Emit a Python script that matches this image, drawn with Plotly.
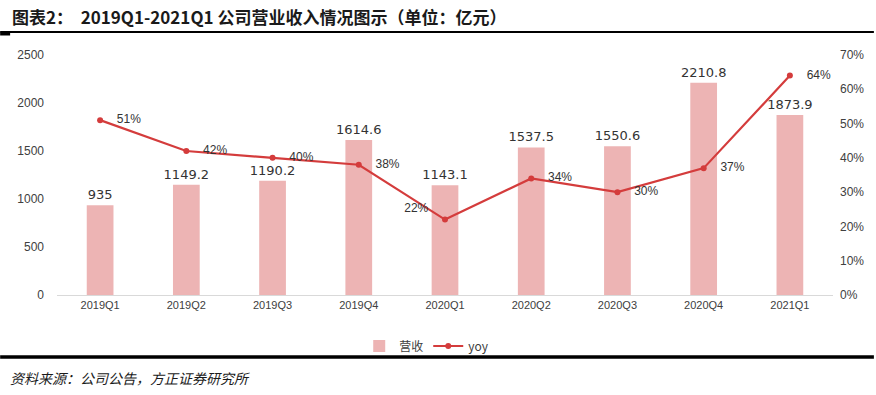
import plotly.graph_objects as go

categories = ["2019Q1", "2019Q2", "2019Q3", "2019Q4", "2020Q1", "2020Q2", "2020Q3", "2020Q4", "2021Q1"]
revenue = [935, 1149.2, 1190.2, 1614.6, 1143.1, 1537.5, 1550.6, 2210.8, 1873.9]
revenue_labels = ["935", "1149.2", "1190.2", "1614.6", "1143.1", "1537.5", "1550.6", "2210.8", "1873.9"]
yoy = [0.51, 0.42, 0.40, 0.38, 0.22, 0.34, 0.30, 0.37, 0.64]
yoy_labels = ["51%", "42%", "40%", "38%", "22%", "34%", "30%", "37%", "64%"]
yoy_pos = ["middle right"] * 9
yoy_pos[4] = "top left"

W, H = 876, 395
L, R, T, B = 57, 835, 55, 295  # plot area px


def px(x):
    return (x - L) / (R - L)


def py(y):
    return (B - y) / (B - T)


yoy_text = [("\u2002\u2002" + s) if p == "middle right" else (s + "\u2002\u2002") for s, p in zip(yoy_labels, yoy_pos)]

FONT = "Noto Sans CJK SC, Liberation Sans, sans-serif"
fig = go.Figure()
fig.add_trace(go.Bar(
    x=categories, y=revenue, name="营收",
    marker=dict(color="#EDB4B4", line=dict(width=0)),
    width=0.31,
    text=revenue_labels, textposition="outside", cliponaxis=False, constraintext="none",
    textfont=dict(size=13, color="#333333", family="DejaVu Sans, sans-serif"),
))
fig.add_trace(go.Scatter(
    x=categories, y=yoy, name="yoy", yaxis="y2",
    mode="lines+markers+text",
    line=dict(color="#D43C3C", width=2.2),
    marker=dict(color="#D43C3C", size=6),
    text=yoy_text, textposition=yoy_pos, cliponaxis=False,
    textfont=dict(size=12, color="#333333", family="Liberation Sans, sans-serif"),
))

fig.update_layout(
    width=W, height=H,
    margin=dict(l=L, r=W - R, t=T, b=H - B, pad=0),
    paper_bgcolor="white", plot_bgcolor="white",
    font=dict(family=FONT, color="#404040"),
    showlegend=True,
    legend=dict(orientation="h", x=px(360), xanchor="left", y=py(346), yanchor="middle",
                font=dict(size=12, color="#404040"), itemwidth=30, traceorder="normal",
                bgcolor="rgba(0,0,0,0)"),
    xaxis=dict(showgrid=False, showline=True, linecolor="#D9D9D9", linewidth=1,
               ticks="", tickfont=dict(size=11, color="#404040", family="Liberation Sans, sans-serif"),
               zeroline=False),
    yaxis=dict(range=[0, 2500], dtick=500, showgrid=False, showline=False, zeroline=False,
               ticks="", ticklabelstandoff=12,
               tickfont=dict(size=12, color="#404040", family="Liberation Sans, sans-serif")),
    yaxis2=dict(range=[0, 0.7], dtick=0.1, tickformat=".0%", overlaying="y", side="right",
                showgrid=False, showline=False, zeroline=False, ticks="", ticklabelstandoff=6,
                tickfont=dict(size=12, color="#404040", family="Liberation Sans, sans-serif")),
)

fig.add_annotation(
    text="<b>图表2：  2019Q1-2021Q1 公司营业收入情况图示（单位：亿元）</b>",
    xref="paper", yref="paper", x=px(10), y=py(17), xanchor="left", yanchor="middle",
    showarrow=False, font=dict(size=17, color="#1a1a1a", family="Noto Sans CJK SC, sans-serif"),
)
fig.add_annotation(
    text="<i>资料来源：公司公告，方正证券研究所</i>",
    xref="paper", yref="paper", x=px(8), y=py(378), xanchor="left", yanchor="middle",
    showarrow=False, font=dict(size=14, color="#1a1a1a", family="Noto Sans CJK SC, sans-serif"),
)
fig.add_shape(type="line", xref="paper", yref="paper", x0=px(0), x1=px(W), y0=py(32), y1=py(32),
              line=dict(color="black", width=2))
fig.add_shape(type="line", xref="paper", yref="paper", x0=px(0), x1=px(10), y0=py(34), y1=py(34),
              line=dict(color="black", width=3))
fig.add_shape(type="line", xref="paper", yref="paper", x0=px(0), x1=px(W), y0=py(357), y1=py(357),
              line=dict(color="black", width=3.5))

fig.write_html("out.html", config={"displayModeBar": False},
               post_script="document.body.style.margin='0';document.body.style.overflow='hidden';")
